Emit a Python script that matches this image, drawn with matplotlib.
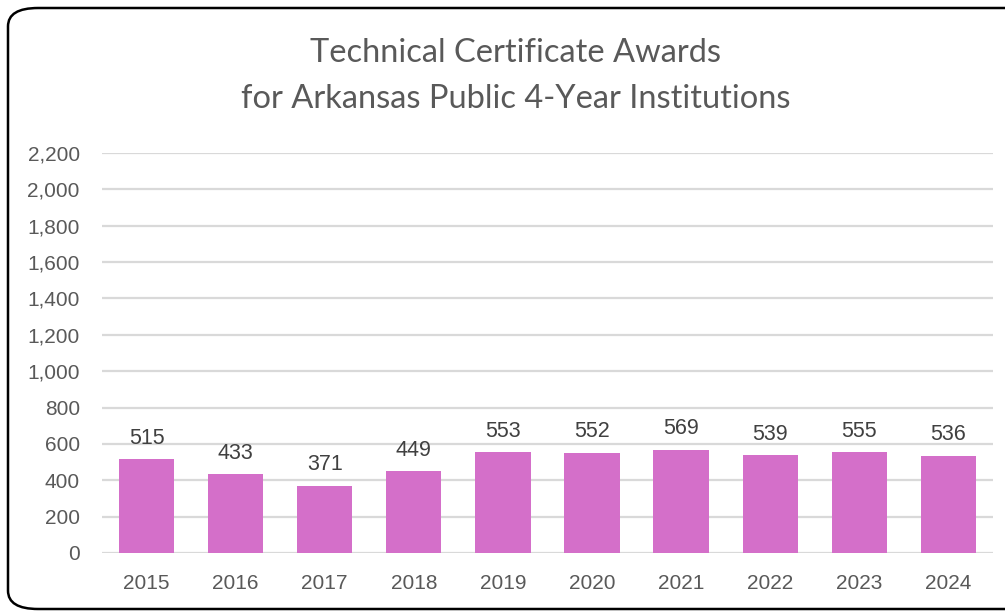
import matplotlib
matplotlib.use("Agg")
import matplotlib.pyplot as plt
from matplotlib.patches import FancyBboxPatch
import numpy as np

years = ["2015", "2016", "2017", "2018", "2019", "2020", "2021", "2022", "2023", "2024"]
awards = [515, 433, 371, 449, 553, 552, 569, 539, 555, 536]
yticks = list(range(0, 2201, 200))

fig = plt.figure(figsize=(10.05, 6.11), dpi=100)
ax = fig.add_axes([0.1015, 0.095, 0.8865, 0.6545])

x = np.arange(len(years))
bars = ax.bar(x, awards, width=0.62, color="#D46FC9", zorder=3)

# value labels above the bars
for b, v in zip(bars, awards):
    ax.annotate(f"{v}", (b.get_x() + b.get_width() / 2, v), xytext=(0, 7.5),
                textcoords="offset points", ha="center", va="bottom",
                fontsize=15.5, color="#404040", family="Liberation Sans")

ax.set_xlim(-0.5, len(years) - 0.5)
ax.set_ylim(0, 2200)
ax.set_yticks(yticks)
ax.set_yticklabels([f"{t:,}" for t in yticks])
ax.set_xticks(x)
ax.set_xticklabels(years)
ax.yaxis.grid(True, color="#D9D9D9", linewidth=1.6, zorder=0)
ax.set_axisbelow(True)
for s in ax.spines.values():
    s.set_visible(False)
ax.tick_params(length=0, labelsize=15, colors="#595959")
ax.tick_params(axis="x", pad=15)
ax.tick_params(axis="y", pad=16)
for lab in ax.get_xticklabels() + ax.get_yticklabels():
    lab.set_family("Liberation Sans")

fig.text(0.513, 0.914, "Technical Certificate Awards", ha="center", va="center",
         fontsize=23.5, color="#595959", family="Lato")
fig.text(0.513, 0.838, "for Arkansas Public 4-Year Institutions", ha="center", va="center",
         fontsize=23.5, color="#595959", family="Lato")

# rounded chart border
border = FancyBboxPatch((8 / 1005, 2 / 611), 1.05, 601 / 611,
                        boxstyle="round,pad=0,rounding_size=0.03",
                        transform=fig.transFigure, fill=False,
                        edgecolor="black", linewidth=1.8, clip_on=False)
fig.patches.append(border)

fig.savefig("out.png", dpi=100)
